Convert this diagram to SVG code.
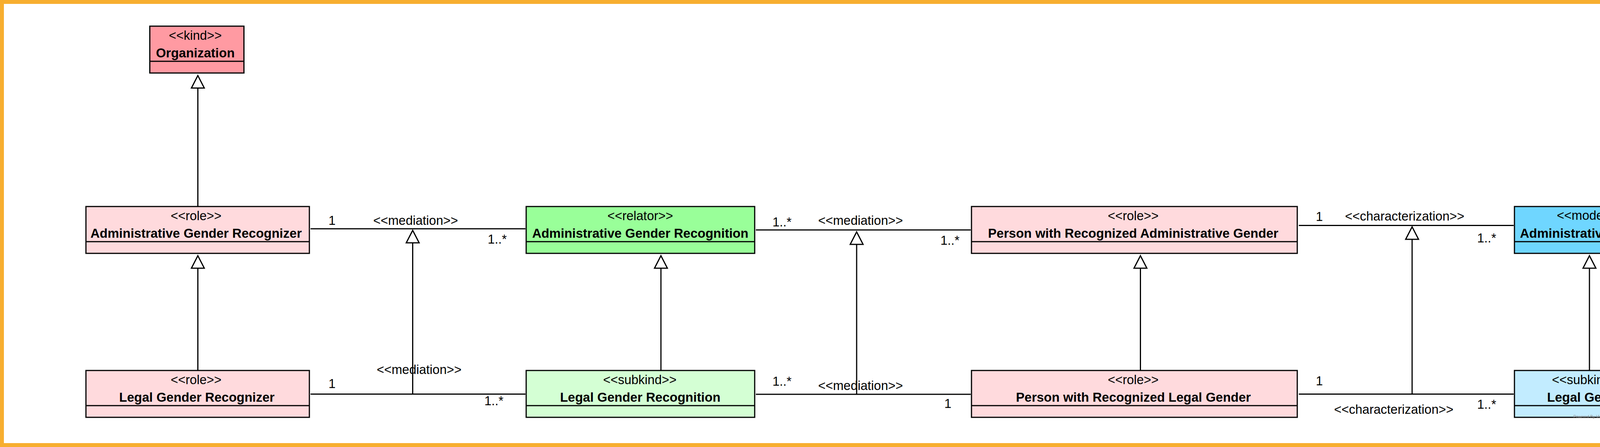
<svg xmlns="http://www.w3.org/2000/svg" width="4485" height="1145" viewBox="0 0 4485 1145">
<style>
.frame{fill:#fff;stroke:#F7AE30;stroke-width:10}
.box{stroke:#000;stroke-width:3}
.dv{stroke:#000;stroke-width:3}
.t{font-family:"Liberation Sans",Arial,sans-serif;font-size:32.5px;fill:#000}
.c{text-anchor:middle}
.nm{font-weight:bold;font-size:33px}
.assoc{stroke:#000;stroke-width:3;fill:none}
.gen{stroke:#000;stroke-width:3;fill:none;marker-end:url(#tri)}
.kind{fill:#FF9AA2}
.role{fill:#FFDADD}
.relator{fill:#99FF99}
.subrel{fill:#D4FFD4}
.mode{fill:#6FD6FF}
.submode{fill:#C2ECFF}
.wm{font-family:"Liberation Sans",Arial,sans-serif;font-size:11px;fill:#8a8a8a}
</style>
<defs>
<marker id="tri" markerUnits="userSpaceOnUse" viewBox="-4 -22 44 44" markerWidth="44" markerHeight="44" refX="32" refY="0" orient="auto" overflow="visible">
<path d="M32,0 L0,-16.5 L0,16.5 Z" fill="#fff" stroke="#000" stroke-width="3" stroke-linejoin="miter"/>
</marker>
</defs>
<rect class="frame" x="5" y="5" width="4475" height="1135"/>

<g id="connectors">
<line class="assoc" x1="795" y1="586" x2="1345" y2="586"/>
<line class="assoc" x1="795" y1="1009.5" x2="1345" y2="1009.5"/>
<line class="assoc" x1="1935" y1="589" x2="2485" y2="589"/>
<line class="assoc" x1="1935" y1="1010" x2="2485" y2="1010"/>
<line class="assoc" x1="3325" y1="577.5" x2="3875" y2="577.5"/>
<line class="assoc" x1="3325" y1="1009.5" x2="3875" y2="1009.5"/>
<line class="gen" x1="506.5" y1="529" x2="506.5" y2="193.5"/>
<line class="gen" x1="506.5" y1="949" x2="506.5" y2="655"/>
<line class="gen" x1="1056.5" y1="1009.5" x2="1056.5" y2="590"/>
<line class="gen" x1="1692" y1="949" x2="1692" y2="655"/>
<line class="gen" x1="2193" y1="1010" x2="2193" y2="594"/>
<line class="gen" x1="2919.5" y1="949" x2="2919.5" y2="655"/>
<line class="gen" x1="3615" y1="1009.5" x2="3615" y2="581"/>
<line class="gen" x1="4069" y1="949" x2="4069" y2="655"/>
<text class="t" x="841" y="576">1</text>
<text class="t c" x="1064" y="576">&lt;&lt;mediation&gt;&gt;</text>
<text class="t" x="1248.5" y="624">1..*</text>
<text class="t" x="841" y="994">1</text>
<text class="t c" x="1073" y="957.5">&lt;&lt;mediation&gt;&gt;</text>
<text class="t" x="1240" y="1038">1..*</text>
<text class="t" x="1977.5" y="579.5">1..*</text>
<text class="t c" x="2203" y="575.5">&lt;&lt;mediation&gt;&gt;</text>
<text class="t" x="2407.5" y="627">1..*</text>
<text class="t" x="1977.5" y="988">1..*</text>
<text class="t c" x="2203" y="999">&lt;&lt;mediation&gt;&gt;</text>
<text class="t" x="2417.5" y="1044.5">1</text>
<text class="t" x="3368.5" y="566">1</text>
<text class="t c" x="3596" y="565">&lt;&lt;characterization&gt;&gt;</text>
<text class="t" x="3781.5" y="621">1..*</text>
<text class="t" x="3368.5" y="987">1</text>
<text class="t c" x="3568" y="1059.5">&lt;&lt;characterization&gt;&gt;</text>
<text class="t" x="3781.5" y="1047">1..*</text>
</g>

<g id="organization">
<rect class="box kind" x="383.5" y="67" width="241" height="120"/>
<line class="dv" x1="383.5" y1="157" x2="624.5" y2="157"/>
<text class="t c" x="500" y="101.5">&lt;&lt;kind&gt;&gt;</text>
<text class="t c nm" x="500" y="146.5">Organization</text>
</g>

<g id="admin-gender-recognizer">
<rect class="box role" x="220" y="529" width="572" height="120"/>
<line class="dv" x1="220" y1="619" x2="792" y2="619"/>
<text class="t c" x="502" y="563.5">&lt;&lt;role&gt;&gt;</text>
<text class="t c nm" x="502" y="608.5">Administrative Gender Recognizer</text>
</g>

<g id="legal-gender-recognizer">
<rect class="box role" x="220" y="949" width="572" height="120"/>
<line class="dv" x1="220" y1="1039" x2="792" y2="1039"/>
<text class="t c" x="502" y="983.5">&lt;&lt;role&gt;&gt;</text>
<text class="t c nm" x="504" y="1029">Legal Gender Recognizer</text>
</g>

<g id="admin-gender-recognition">
<rect class="box relator" x="1347" y="529" width="585" height="120"/>
<line class="dv" x1="1347" y1="619" x2="1932" y2="619"/>
<text class="t c" x="1639" y="563.5">&lt;&lt;relator&gt;&gt;</text>
<text class="t c nm" x="1639" y="608.5">Administrative Gender Recognition</text>
</g>

<g id="legal-gender-recognition">
<rect class="box subrel" x="1347" y="949" width="585" height="120"/>
<line class="dv" x1="1347" y1="1039" x2="1932" y2="1039"/>
<text class="t c" x="1638" y="983.5">&lt;&lt;subkind&gt;&gt;</text>
<text class="t c nm" x="1639" y="1029">Legal Gender Recognition</text>
</g>

<g id="person-admin-gender">
<rect class="box role" x="2487" y="529" width="834" height="120"/>
<line class="dv" x1="2487" y1="619" x2="3321" y2="619"/>
<text class="t c" x="2901" y="563.5">&lt;&lt;role&gt;&gt;</text>
<text class="t c nm" x="2901" y="608.5">Person with Recognized Administrative Gender</text>
</g>

<g id="person-legal-gender">
<rect class="box role" x="2487" y="949" width="834" height="120"/>
<line class="dv" x1="2487" y1="1039" x2="3321" y2="1039"/>
<text class="t c" x="2901" y="983.5">&lt;&lt;role&gt;&gt;</text>
<text class="t c nm" x="2901.5" y="1029">Person with Recognized Legal Gender</text>
</g>

<g id="admin-gender">
<rect class="box mode" x="3877" y="529" width="384" height="120"/>
<line class="dv" x1="3877" y1="619" x2="4261" y2="619"/>
<text class="t c" x="4064" y="563">&lt;&lt;mode&gt;&gt;</text>
<text class="t c nm" x="4068" y="609">Administrative Gender</text>
</g>

<g id="legal-gender">
<rect class="box submode" x="3877" y="949" width="384" height="120"/>
<line class="dv" x1="3877" y1="1039" x2="4261" y2="1039"/>
<text class="t c" x="4067" y="983.5">&lt;&lt;subkind&gt;&gt;</text>
<text class="t c nm" x="4066" y="1029">Legal Gender</text>
</g>

<g id="watermark">
<text class="wm" x="4028" y="1071" textLength="220" lengthAdjust="spacingAndGlyphs">Powered By Visual Paradigm Community Edition</text>
<polygon points="4260,1059 4268,1067 4260,1075 4252,1067" fill="#C8302C"/>
</g>
</svg>
